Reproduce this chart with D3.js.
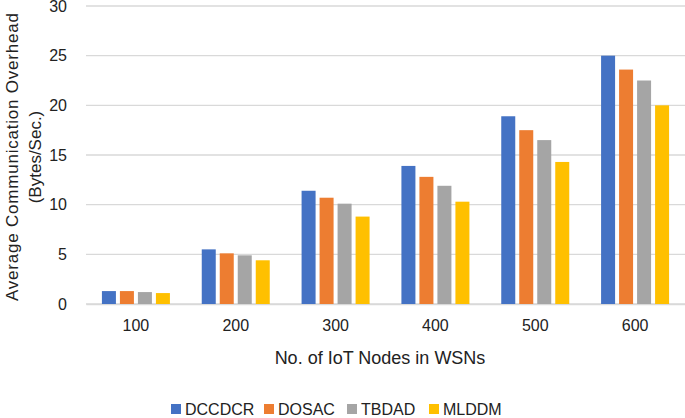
<!DOCTYPE html>
<html>
<head>
<meta charset="utf-8">
<script src="https://cdn.jsdelivr.net/npm/d3@7"></script>
<style>
  body { margin: 0; background: #fff; }
  text { font-family: "Liberation Sans", Arial, sans-serif; fill: #222; }
</style>
</head>
<body>
<div id="chart"></div>
<script>
// data
const nodes = ['100', '200', '300', '400', '500', '600'];
const seriesNames = ['DCCDCR', 'DOSAC', 'TBDAD', 'MLDDM'];
const dccdcr = [1.3, 5.5, 11.4, 13.9, 18.9, 25.0];
const dosac = [1.3, 5.1, 10.7, 12.8, 17.5, 23.6];
const tbdad = [1.2, 4.9, 10.1, 11.9, 16.5, 22.5];
const mlddm = [1.1, 4.4, 8.8, 10.3, 14.3, 20.0];
const yTicks = [0, 5, 10, 15, 20, 25, 30];

const colors = ['#4472C4', '#ED7D31', '#A5A5A5', '#FFC000'];
const allValues = [dccdcr, dosac, tbdad, mlddm];

const w = 685, h = 418;
const margin = { top: 6, right: 0, bottom: 114, left: 86 };

const svg = d3.select('#chart').append('svg')
    .attr('width', w)
    .attr('height', h);

// scales
const x0 = d3.scaleBand()
    .domain(nodes)
    .range([margin.left, w - margin.right]);

const x1 = d3.scaleBand()
    .domain(seriesNames)
    .range([0, 72]);

const y = d3.scaleLinear()
    .domain([0, 30])
    .range([h - margin.bottom, margin.top]);

// gridlines
svg.append('g')
    .selectAll('line')
    .data(yTicks)
    .enter()
    .append('line')
    .attr('x1', margin.left)
    .attr('x2', w - margin.right)
    .attr('y1', d => y(d))
    .attr('y2', d => y(d))
    .attr('stroke', '#d9d9d9')
    .attr('stroke-width', 1.3);

// y axis tick labels
const yAxis = d3.axisLeft(y).tickValues(yTicks).tickSize(0).tickPadding(19);
const yAxisG = svg.append('g')
    .attr('transform', `translate(${margin.left},0)`)
    .call(yAxis);
yAxisG.select('.domain').remove();
yAxisG.selectAll('text')
    .style('font-size', '16px')
    .style('font-family', '"Liberation Sans", Arial, sans-serif')
    .attr('fill', '#222');

// x axis tick labels
const xAxis = d3.axisBottom(x0).tickSize(0).tickPadding(16);
const xAxisG = svg.append('g')
    .attr('transform', `translate(0,${y(0)})`)
    .call(xAxis);
xAxisG.select('.domain').attr('stroke', '#d9d9d9').attr('stroke-width', 1.3);
xAxisG.selectAll('text')
    .style('font-size', '16px')
    .style('font-family', '"Liberation Sans", Arial, sans-serif')
    .attr('fill', '#222');

// bars
const barData = [];
nodes.forEach((n, i) => {
    seriesNames.forEach((s, j) => {
        barData.push({ node: n, series: s, value: allValues[j][i], color: colors[j] });
    });
});

const offset = (x0.bandwidth() - 68) / 2;
svg.append('g')
    .selectAll('rect')
    .data(barData)
    .enter()
    .append('rect')
    .attr('x', d => x0(d.node) + offset + x1(d.series))
    .attr('y', d => y(d.value))
    .attr('width', x1.bandwidth() - 4)
    .attr('height', d => y(0) - y(d.value))
    .attr('fill', d => d.color);

// y axis title, two lines
const yTitle = svg.append('text')
    .attr('transform', `translate(18,157) rotate(-90)`)
    .attr('text-anchor', 'middle')
    .style('font-size', '17px');
yTitle.append('tspan')
    .attr('x', 0).attr('y', 0)
    .attr('textLength', 288)
    .text('Average Communication Overhead');
yTitle.append('tspan')
    .attr('x', 0).attr('y', 23)
    .text('(Bytes/Sec.)');

// x axis title
svg.append('text')
    .attr('x', 380)
    .attr('y', 364)
    .attr('text-anchor', 'middle')
    .style('font-size', '18px')
    .text('No. of IoT Nodes in WSNs');

// legend
const legendX = [171, 264, 347, 429];
const legend = svg.append('g')
    .selectAll('g')
    .data(seriesNames)
    .enter()
    .append('g')
    .attr('transform', (d, i) => `translate(${legendX[i]},404)`);
legend.append('rect')
    .attr('width', 10)
    .attr('height', 10)
    .attr('fill', (d, i) => colors[i]);
legend.append('text')
    .attr('x', 14)
    .attr('y', 11)
    .style('font-size', '16px')
    .text(d => d);
</script>
</body>
</html>
